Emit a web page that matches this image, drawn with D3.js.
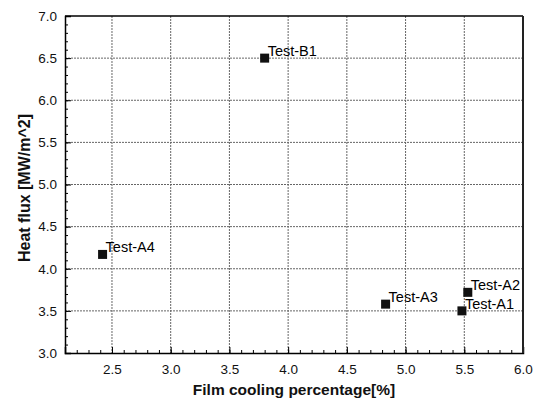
<!DOCTYPE html>
<html>
<head>
<meta charset="utf-8">
<script src="https://cdn.jsdelivr.net/npm/d3@7"></script>
<style>
  body { margin: 0; background: #fff; }
  svg { display: block; font-family: "Liberation Sans", Arial, sans-serif; }
</style>
</head>
<body>
<div id="chart"></div>
<script>
// test cases
const testNames = ['Test-B1', 'Test-A4', 'Test-A3', 'Test-A2', 'Test-A1'];
const coolingPct = [3.80, 2.42, 4.83, 5.53, 5.48];
const heatFlux = [6.50, 4.17, 3.58, 3.72, 3.50];

const xTicks = [2.5, 3.0, 3.5, 4.0, 4.5, 5.0, 5.5, 6.0];
const yTicks = [3.0, 3.5, 4.0, 4.5, 5.0, 5.5, 6.0, 6.5, 7.0];

const width = 543, height = 404;
const margin = { top: 16, right: 20, bottom: 51, left: 65 };
const innerW = width - margin.left - margin.right;
const innerH = height - margin.top - margin.bottom;

const svg = d3.select('#chart').append('svg')
  .attr('width', width)
  .attr('height', height);

svg.append('rect').attr('width', width).attr('height', height).attr('fill', '#fff');

const g = svg.append('g')
  .attr('transform', `translate(${margin.left},${margin.top})`);

const x = d3.scaleLinear().domain([2.1, 6.0]).range([0, innerW]);
const y = d3.scaleLinear().domain([3.0, 7.0]).range([innerH, 0]);

// dotted grid at the major ticks
g.append('g').selectAll('line')
  .data(xTicks.filter(t => t < 6.0))
  .join('line')
  .attr('x1', d => x(d)).attr('x2', d => x(d))
  .attr('y1', 0).attr('y2', innerH)
  .attr('stroke', '#666').attr('stroke-dasharray', '2,1');

g.append('g').selectAll('line')
  .data(yTicks.filter(t => t > 3.0 && t < 7.0))
  .join('line')
  .attr('x1', 0).attr('x2', innerW)
  .attr('y1', d => y(d)).attr('y2', d => y(d))
  .attr('stroke', '#666').attr('stroke-dasharray', '2,1');

// minor ticks (inward)
const xMinor = d3.range(22, 60).map(v => v / 10);
const yMinor = d3.range(31, 70).map(v => v / 10);

g.append('g')
  .attr('transform', `translate(0,${innerH})`)
  .call(d3.axisBottom(x).tickValues(xMinor).tickSize(-3).tickFormat(''))
  .call(a => a.select('.domain').remove());

g.append('g')
  .call(d3.axisLeft(y).tickValues(yMinor).tickSize(-3).tickFormat(''))
  .call(a => a.select('.domain').remove());

// major ticks + labels
const xAxis = g.append('g')
  .attr('transform', `translate(0,${innerH})`)
  .call(d3.axisBottom(x).tickValues(xTicks).tickSize(-6).tickPadding(11).tickFormat(d3.format('.1f')));

const yAxis = g.append('g')
  .call(d3.axisLeft(y).tickValues(yTicks).tickSize(-6).tickPadding(8).tickFormat(d3.format('.1f')));

[xAxis, yAxis].forEach(a => {
  a.selectAll('text').attr('font-size', 13.5).attr('fill', '#111')
    .attr('font-family', '"Liberation Sans", Arial, sans-serif');
  a.select('.domain').attr('stroke', '#000').attr('stroke-width', 1.5);
});
xAxis.selectAll('text').attr('dy', '0.71em');

// frame top and right
g.append('line').attr('x1', 0).attr('x2', innerW).attr('y1', 0).attr('y2', 0)
  .attr('stroke', '#000').attr('stroke-width', 1.5);
g.append('line').attr('x1', innerW).attr('x2', innerW).attr('y1', 0).attr('y2', innerH)
  .attr('stroke', '#222').attr('stroke-width', 2);

// points
const pts = testNames.map((n, i) => ({ name: n, cx: coolingPct[i], cy: heatFlux[i] }));

g.append('g').selectAll('rect')
  .data(pts)
  .join('rect')
  .attr('x', d => x(d.cx) - 4.5)
  .attr('y', d => y(d.cy) - 4.5)
  .attr('width', 9).attr('height', 9)
  .attr('fill', '#111');

g.append('g').selectAll('text')
  .data(pts)
  .join('text')
  .attr('x', d => x(d.cx) + 3)
  .attr('y', d => y(d.cy) - 2)
  .attr('font-size', 14.5)
  .attr('fill', '#000')
  .text(d => d.name);

// axis titles
svg.append('text')
  .attr('x', margin.left + innerW / 2)
  .attr('y', 395)
  .attr('text-anchor', 'middle')
  .attr('font-size', 15.5)
  .attr('font-weight', 'bold')
  .attr('fill', '#111')
  .text('Film cooling percentage[%]');

svg.append('text')
  .attr('transform', `translate(30,188) rotate(-90)`)
  .attr('text-anchor', 'middle')
  .attr('font-size', 16)
  .attr('font-weight', 'bold')
  .attr('fill', '#111')
  .text('Heat flux [MW/m^2]');
</script>
</body>
</html>
